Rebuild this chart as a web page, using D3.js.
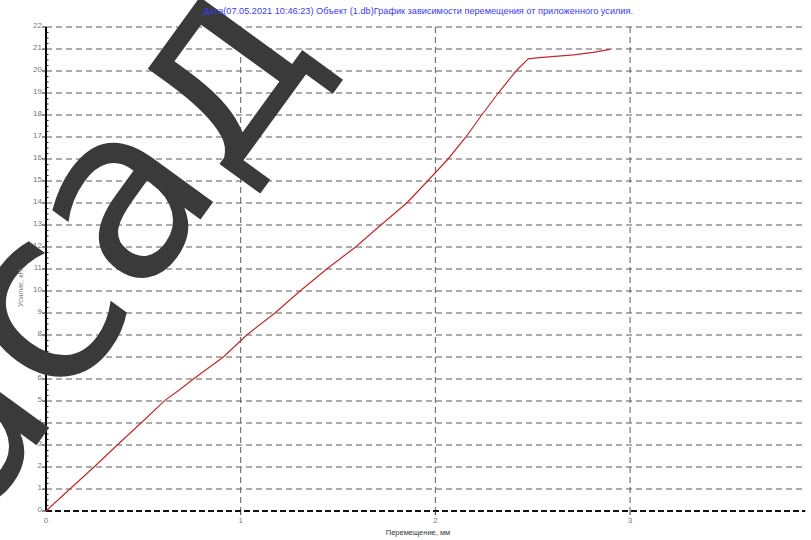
<!DOCTYPE html>
<html lang="ru">
<head>
	<meta charset="UTF-8">
	<title>Усилие - перемещение</title>
	<script src="https://cdn.jsdelivr.net/npm/d3@7"></script>
	<style>
		*{
			margin: 0px;
			box-sizing: border-box;
		}
		html,body{
			width:811px;
			height:540px;
			overflow: hidden;
			background:#fff;
		}
		text{
			font-family: "Liberation Sans", Arial, sans-serif;
		}
		.grid line{
			stroke:#5a5a5a;
			stroke-width:1;
			stroke-dasharray:6,4;
		}
		.tickLabel{
			font-size: 8px;
			fill:#777;
		}
	</style>
</head>
<body>
	<svg id="svg"></svg>
	<script>
		// displacement, mm
		var disp = [0, 0.123, 0.247, 0.366, 0.488, 0.611, 0.688, 0.757, 0.911, 1.031, 1.176, 1.305, 1.442, 1.59, 1.72, 1.853, 1.96, 2.065, 2.157, 2.238, 2.323, 2.414, 2.477, 2.52, 2.71, 2.81, 2.897];
		// force, kN
		var force = [0, 1, 2, 3, 4, 5.03, 5.52, 6, 7, 8, 9, 10, 11, 12, 13, 14, 15, 16, 17, 18, 19, 20, 20.55, 20.6, 20.73, 20.85, 20.98];
		var yTicks = d3.range(0, 23);
		var xTicks = [0, 1, 2, 3];
		var title = "Дата(07.05.2021 10:46:23) Объект (1.db)График зависимости перемещения от приложенного усилия.";
		var xLabel = "Перемещение, мм";
		var yLabel = "Усилие, кН";
		var stamp = "фасад";

		var w = 811, h = 540,
			svg = d3.select("#svg").attr("width", w).attr("height", h);

		var x = d3.scaleLinear().domain([0, 3.9]).range([46, 805.3]),
			y = d3.scaleLinear().domain([0, 22]).range([511, 27]);

		// horizontal grid
		svg.append("g").attr("class", "grid")
			.selectAll("line")
			.data(yTicks.filter(function(d) { return d > 0; }))
			.enter().append("line")
			.attr("x1", x(0)).attr("x2", x(3.9))
			.attr("y1", function(d) { return y(d); })
			.attr("y2", function(d) { return y(d); });

		// vertical grid
		svg.append("g").attr("class", "grid")
			.selectAll("line")
			.data(xTicks.filter(function(d) { return d > 0; }))
			.enter().append("line")
			.attr("x1", function(d) { return x(d); })
			.attr("x2", function(d) { return x(d); })
			.attr("y1", y(22)).attr("y2", y(0));

		// bottom axis (dashed black)
		svg.append("line")
			.attr("x1", x(0)).attr("x2", x(3.9))
			.attr("y1", y(0)).attr("y2", y(0))
			.attr("stroke", "#111").attr("stroke-width", 2)
			.attr("stroke-dasharray", "6,3");
		svg.append("g").selectAll("line")
			.data(xTicks.filter(function(d) { return d > 0; }))
			.enter().append("line")
			.attr("x1", function(d) { return x(d); })
			.attr("x2", function(d) { return x(d); })
			.attr("y1", y(0)).attr("y2", y(0) + 4)
			.attr("stroke", "#333");

		// left axis
		svg.append("line")
			.attr("x1", x(0)).attr("x2", x(0))
			.attr("y1", y(22)).attr("y2", y(0))
			.attr("stroke", "#000").attr("stroke-width", 2);
		svg.append("g").selectAll("line")
			.data(d3.range(0, 22.01, 0.25))
			.enter().append("line")
			.attr("x1", x(0))
			.attr("x2", function(d) { return d % 1 == 0 ? x(0) - 4 : x(0) + 2.5; })
			.attr("y1", function(d) { return y(d); })
			.attr("y2", function(d) { return y(d); })
			.attr("stroke", "#222").attr("stroke-width", 1);

		svg.append("g").selectAll("text")
			.data(yTicks)
			.enter().append("text")
			.attr("class", "tickLabel")
			.attr("x", x(0) - 4)
			.attr("y", function(d) { return y(d) + 1; })
			.attr("text-anchor", "end")
			.text(function(d) { return d; });

		svg.append("g").selectAll("text")
			.data(xTicks)
			.enter().append("text")
			.attr("class", "tickLabel")
			.attr("x", function(d) { return x(d); })
			.attr("y", y(0) + 12)
			.attr("text-anchor", "middle")
			.text(function(d) { return d; });

		// data line
		var line = d3.line()
			.x(function(d) { return x(d[0]); })
			.y(function(d) { return y(d[1]); });
		svg.append("path")
			.datum(d3.zip(disp, force))
			.attr("d", line)
			.attr("fill", "none")
			.attr("stroke", "#c22a2a")
			.attr("stroke-width", 1.2);

		// watermark, the visible part "сад" starts at the rotated origin
		var mark = svg.append("g")
			.attr("transform", "translate(62,410) rotate(-54)")
			.append("text")
			.style("font-family", "'DejaVu Sans', sans-serif")
			.style("font-size", "240px")
			.style("fill", "#3a3a3a")
			.text(stamp);
		mark.attr("x", -mark.node().getSubStringLength(0, 2));

		// titles
		svg.append("text")
			.attr("x", 418).attr("y", 14)
			.attr("text-anchor", "middle")
			.attr("textLength", 430)
			.attr("lengthAdjust", "spacingAndGlyphs")
			.style("font-size", "8.5px")
			.style("fill", "#3a3af0")
			.text(title);
		svg.append("text")
			.attr("x", 418).attr("y", 535)
			.attr("text-anchor", "middle")
			.style("font-size", "7.5px")
			.style("fill", "#333")
			.text(xLabel);
		svg.append("text")
			.attr("transform", "translate(23,288) rotate(-90)")
			.attr("text-anchor", "middle")
			.style("font-size", "7.5px")
			.style("fill", "#888")
			.text(yLabel);
	</script>
</body>
</html>
